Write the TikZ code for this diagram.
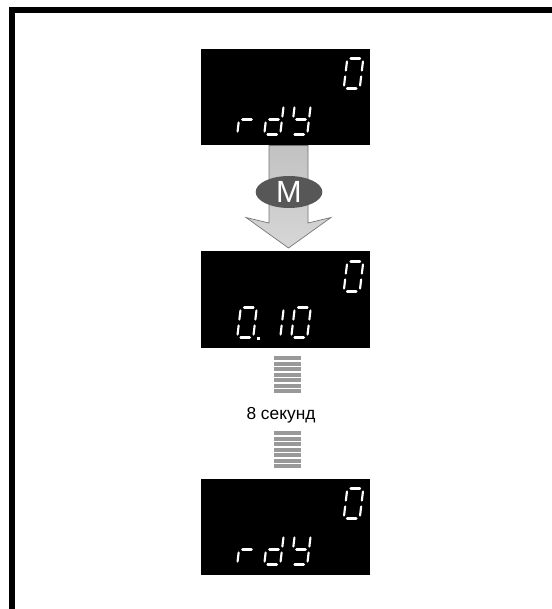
\documentclass[tikz,border=0pt]{standalone}
\usepackage{fontspec}
\setmainfont{Liberation Sans}
\usetikzlibrary{shapes.geometric}
\tikzset{
  seg/.style={draw=white, line width=1.6pt, line cap=round},
  segh/.style={draw=white, line width=2.1pt, line cap=round},
  disp/.style={fill=black, inner sep=0pt, minimum width=126.75pt, minimum height=72pt},
  stripe/.style={fill=black!40},
  bigarrow/.style={draw=black!55, line width=0.5pt, top color=black!24, bottom color=black!16},
  mkey/.style={ellipse, fill=black!66, inner sep=0pt, minimum width=50pt, minimum height=24pt, text=white, font=\fontsize{23}{23}\selectfont},
  lbl/.style={font=\fontsize{13}{15}\selectfont, inner sep=0pt},
}
\newcommand\ssga{\draw[segh] (3.5,-15) -- (12.5,-15);}
\newcommand\ssgb{\draw[seg] (16,-12) -- (16,-3);}
\newcommand\ssgc{\draw[seg] (16,3) -- (16,12);}
\newcommand\ssgd{\draw[segh] (3.5,15) -- (12.5,15);}
\newcommand\ssge{\draw[seg] (0,3) -- (0,12);}
\newcommand\ssgf{\draw[seg] (0,-12) -- (0,-3);}
\newcommand\ssgg{\draw[segh] (3.5,0) -- (12.5,0);}
\newcommand\sdigit[3]{\begin{scope}[shift={(#1,#2)},xslant=0.12]\foreach \q in {#3}{\csname ssg\q\endcsname}\end{scope}}
\begin{document}
\begin{tikzpicture}[x=0.75pt,y=-0.75pt]
\useasboundingbox (0,0) rectangle (552,609);
% frame
\fill (9,7) rectangle (552,13);
\fill (9,7) rectangle (15,609);
% displays
\node[disp] (d1) at (285.5,97) {};
\node[disp] (d2) at (285.5,299.5) {};
\node[disp] (d3) at (285.5,527) {};
% display 1: 0 / rdY
\sdigit{345.5}{73.5}{a,b,c,d,e,f}
\sdigit{239}{119.5}{e,g}
\sdigit{266}{119.5}{b,c,d,e,g}
\sdigit{293}{119.5}{b,c,d,f,g}
% display 2: 0 / 0.10
\sdigit{345.5}{276.5}{a,b,c,d,e,f}
\sdigit{239}{322.5}{a,b,c,d,e,f}
\fill[white] (256.5,336.5) rectangle (259.5,339.5);
\sdigit{266}{322.5}{b,c}
\sdigit{293}{322.5}{a,b,c,d,e,f}
% display 3: 0 / rdY
\sdigit{345.5}{503.5}{a,b,c,d,e,f}
\sdigit{239}{549.5}{e,g}
\sdigit{266}{549.5}{b,c,d,e,g}
\sdigit{293}{549.5}{b,c,d,f,g}
% big arrow with M key
\path[bigarrow] (269,145.5) -- (269,223) -- (246,217.5) -- (288.5,248) -- (331,217.5) -- (308,223) -- (308,145.5) -- cycle;
\node[mkey] (m) at (289,192) {M};
% wait bars
\foreach \i in {0,...,6} {
  \fill[stripe] (274,356+\i*5.5) rectangle (301,356+\i*5.5+4.3);
  \fill[stripe] (274,431+\i*5.5) rectangle (301,431+\i*5.5+4.3);
}
\node[lbl] (t) at (281,415) {8 секунд};
\end{tikzpicture}
\end{document}
